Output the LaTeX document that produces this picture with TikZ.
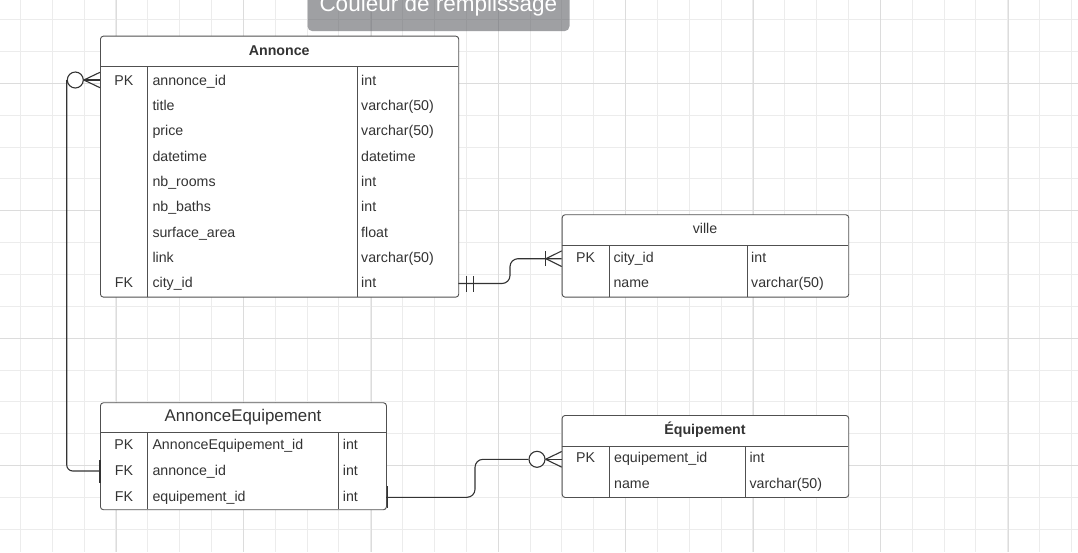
\documentclass[tikz,border=0pt]{standalone}
\usepackage{fontspec}
\setmainfont{Liberation Sans}
\definecolor{gridminor}{HTML}{ECECEC}
\definecolor{gridmajor}{HTML}{DCDCDC}
\definecolor{boxc}{HTML}{505050}
\definecolor{txt}{HTML}{333333}
\definecolor{linec}{HTML}{333333}
\definecolor{tipc}{RGB}{90,92,98}
\newcommand\fs{\fontsize{14.2}{17}\selectfont}
\begin{document}
\begin{tikzpicture}[x=1pt,y=-1pt,
  gminor/.style={draw=gridminor,line width=0.9pt},
  gmajor/.style={draw=gridmajor,line width=0.9pt},
  tbl/.style={draw=boxc,fill=white,rounded corners=3pt,line width=0.9pt,anchor=north west,inner sep=0pt},
  sepline/.style={draw=boxc,line width=0.9pt},
  fld/.style={anchor=base west,inner sep=0pt,font=\fs,text=txt},
  keyt/.style={anchor=base,inner sep=0pt,font=\fs,text=txt},
  ttl/.style={anchor=base,inner sep=0pt,font=\fs,text=txt},
  conn/.style={draw=linec,line width=1.1pt},
  endc/.style={circle,draw=linec,line width=1.1pt,fill=white,minimum size=16pt,inner sep=0pt}]
\useasboundingbox (0,0) rectangle (1078,552);
\fill[white] (0,0) rectangle (1078,552);
% grid
\foreach \k in {0,...,33}{\draw[gminor] ({20.35+31.85*\k},0) -- ++(0,552);}
\foreach \k in {0,...,16}{\draw[gminor] (0,{19.6+31.85*\k}) -- ++(1078,0);}
\foreach \k in {0,...,7}{\draw[gmajor] ({116.3+127.4*\k},0) -- ++(0,552);}
\foreach \k in {0,...,3}{\draw[gmajor] (0,{83.3+127.4*\k}) -- ++(1078,0);}
% tooltip
\node[fill=tipc,fill opacity=0.58,rounded corners=5pt,anchor=north west,minimum width=262pt,minimum height=42pt,inner sep=0pt] (tip) at (307.3,-11) {};
\node[anchor=base west,inner sep=0pt,text=white,font=\fontsize{22.5}{26}\selectfont] (tiptext) at (319.3,11.5) {Couleur de remplissage};
% ===== Annonce =====
\node[tbl,minimum width=358.3pt,minimum height=261pt] (annonce) at (100,35.7) {};
\draw[sepline] (100,66.7) -- (458.3,66.7);
\draw[sepline] (147.7,66.7) -- (147.7,296.7);
\draw[sepline] (357.3,66.7) -- (357.3,296.7);
\node[ttl,font=\fs\bfseries] (annT) at (279.2,55.5) {Annonce};
\node[keyt] (annK1) at (123.9,85) {PK};
\node[keyt] (annK9) at (123.9,287.9) {FK};
\node[fld] (annF1) at (152.3,85) {annonce\_id};
\node[fld] (annF2) at (152.3,110.3) {title};
\node[fld] (annF3) at (152.3,135.7) {price};
\node[fld] (annF4) at (152.3,161) {datetime};
\node[fld] (annF5) at (152.3,186.4) {nb\_rooms};
\node[fld] (annF6) at (152.3,211.8) {nb\_baths};
\node[fld] (annF7) at (152.3,237.1) {surface\_area};
\node[fld] (annF8) at (152.3,262.5) {link};
\node[fld] (annF9) at (152.3,287.9) {city\_id};
\node[fld] (annY1) at (361,85) {int};
\node[fld] (annY2) at (361,110.3) {varchar(50)};
\node[fld] (annY3) at (361,135.7) {varchar(50)};
\node[fld] (annY4) at (361,161) {datetime};
\node[fld] (annY5) at (361,186.4) {int};
\node[fld] (annY6) at (361,211.8) {int};
\node[fld] (annY7) at (361,237.1) {float};
\node[fld] (annY8) at (361,262.5) {varchar(50)};
\node[fld] (annY9) at (361,287.9) {int};
% ===== ville =====
\node[tbl,minimum width=286.6pt,minimum height=82.4pt] (ville) at (561.7,214.3) {};
\draw[sepline] (561.7,245.7) -- (848.3,245.7);
\draw[sepline] (609.3,245.7) -- (609.3,296.7);
\draw[sepline] (747.3,245.7) -- (747.3,296.7);
\node[ttl] (vilT) at (705,233.3) {ville};
\node[keyt] (vilK1) at (585.5,262.3) {PK};
\node[fld] (vilF1) at (613.3,262.3) {city\_id};
\node[fld] (vilF2) at (613.3,287.7) {name};
\node[fld] (vilY1) at (751,262.3) {int};
\node[fld] (vilY2) at (751,287.7) {varchar(50)};
% ===== AnnonceEquipement =====
\node[tbl,minimum width=286pt,minimum height=107pt] (ae) at (100,402.3) {};
\draw[sepline] (100,432.7) -- (386,432.7);
\draw[sepline] (147.7,432.7) -- (147.7,509.3);
\draw[sepline] (338.7,432.7) -- (338.7,509.3);
\node[ttl,font=\fontsize{16.9}{20}\selectfont] (aeT) at (243,421.7) {AnnonceEquipement};
\node[keyt] (aeK1) at (123.9,449.3) {PK};
\node[keyt] (aeK2) at (123.9,475) {FK};
\node[keyt] (aeK3) at (123.9,501) {FK};
\node[fld] (aeF1) at (152.3,449.3) {AnnonceEquipement\_id};
\node[fld] (aeF2) at (152.3,475) {annonce\_id};
\node[fld] (aeF3) at (152.3,501) {equipement\_id};
\node[fld] (aeY1) at (342.7,449.3) {int};
\node[fld] (aeY2) at (342.7,475) {int};
\node[fld] (aeY3) at (342.7,501) {int};
% ===== Equipement =====
\node[tbl,minimum width=286.6pt,minimum height=82pt] (equip) at (561.7,415) {};
\draw[sepline] (561.7,446.3) -- (848.3,446.3);
\draw[sepline] (609.3,446.3) -- (609.3,497);
\draw[sepline] (745.3,446.3) -- (745.3,497);
\node[ttl,font=\fs\bfseries] (eqT) at (705,434.3) {Équipement};
\node[keyt] (eqK1) at (585.5,462.7) {PK};
\node[fld] (eqF1) at (614,462.7) {equipement\_id};
\node[fld] (eqF2) at (614,488.3) {name};
\node[fld] (eqY1) at (749.3,462.7) {int};
\node[fld] (eqY2) at (749.3,488.3) {varchar(50)};
% ===== connector 1: Annonce.annonce_id -- AnnonceEquipement.annonce_id =====
\coordinate (annPK) at (100,80);
\coordinate (aeFK1) at (100,471);
\node[endc] (c1) at (75.3,80) {};
\draw[conn,rounded corners=6pt] (c1.west) |- (aeFK1);
\draw[conn] (c1.east) -- (annPK);
\draw[conn] (c1.east) -- ([yshift=7.7pt]annPK);
\draw[conn] (c1.east) -- ([yshift=-7.7pt]annPK);
\draw[conn] ([yshift=11pt]aeFK1) -- ([yshift=-12pt]aeFK1);
% ===== connector 2: Annonce.city_id -- ville.city_id =====
\coordinate (annFK) at (458.3,283.5);
\coordinate (vilPK) at (561.7,258.7);
\coordinate (bend2) at (510,0);
\coordinate (foot2) at (546,258.7);
\draw[conn,rounded corners=8pt] (annFK) -- (annFK -| bend2) -- (bend2 |- vilPK) -- (vilPK);
\draw[conn] ([xshift=8.4pt,yshift=-8pt]annFK) -- ([xshift=8.4pt,yshift=8pt]annFK);
\draw[conn] ([xshift=15pt,yshift=-8pt]annFK) -- ([xshift=15pt,yshift=8pt]annFK);
\draw[conn] (foot2) -- ([yshift=-7.8pt]vilPK);
\draw[conn] (foot2) -- ([yshift=7.8pt]vilPK);
\draw[conn] ([xshift=-0.7pt,yshift=-7.5pt]foot2) -- ([xshift=-0.7pt,yshift=7.5pt]foot2);
% ===== connector 3: AnnonceEquipement.equipement_id -- Equipement.equipement_id =====
\coordinate (aeFK2) at (386,497.3);
\coordinate (eqPK) at (561.7,459.3);
\coordinate (bend3) at (475,0);
\node[endc] (c3) at (537,459.3) {};
\draw[conn,rounded corners=8pt] (aeFK2) -- (aeFK2 -| bend3) -- (bend3 |- c3.west) -- (c3.west);
\draw[conn] (c3.east) -- (eqPK);
\draw[conn] (c3.east) -- ([yshift=-7.8pt]eqPK);
\draw[conn] (c3.east) -- ([yshift=7.8pt]eqPK);
\draw[conn] ([xshift=1.3pt,yshift=-10.5pt]aeFK2) -- ([xshift=1.3pt,yshift=11.5pt]aeFK2);
\end{tikzpicture}
\end{document}
